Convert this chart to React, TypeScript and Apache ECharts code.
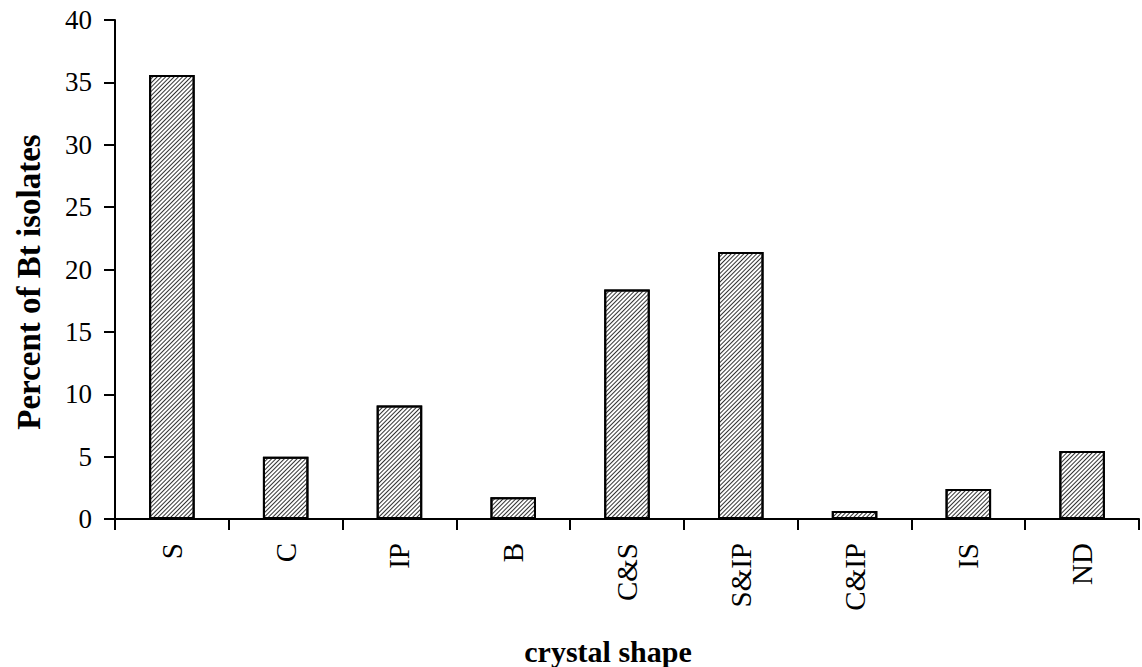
import React, { useEffect, useRef } from "react";
import * as echarts from "echarts";

const categories = ["S", "C", "IP", "B", "C&S", "S&IP", "C&IP", "IS", "ND"];
const percentValues = [35.6, 5.0, 9.1, 1.75, 18.4, 21.4, 0.65, 2.4, 5.45];
const yTicks = { min: 0, max: 40, interval: 5 };
const xTitle = "crystal shape";
const yTitle = "Percent of Bt isolates";

const FONT = "'Liberation Serif', 'DejaVu Serif', serif";

export default function App() {
  const ref = useRef<HTMLDivElement>(null);
  useEffect(() => {
    if (!ref.current) return;
    const chart = echarts.init(ref.current, null, { renderer: "svg" });
    chart.setOption({
      animation: false,
      backgroundColor: "#fff",
      grid: { left: 115, right: 3, top: 20, bottom: 148, containLabel: false },
      graphic: [
        {
          type: "text",
          x: 608,
          y: 651,
          style: {
            text: xTitle,
            fontFamily: FONT,
            fontSize: 30,
            fontWeight: "bold",
            fill: "#000",
            textAlign: "center",
            textVerticalAlign: "middle",
          },
        },
        {
          type: "text",
          x: 29,
          y: 282,
          rotation: Math.PI / 2,
          style: {
            text: yTitle,
            fontFamily: FONT,
            fontSize: 33,
            fontWeight: "bold",
            fill: "#000",
            textAlign: "center",
            textVerticalAlign: "middle",
          },
        },
      ],
      xAxis: {
        type: "category",
        data: categories,
        axisLine: { lineStyle: { color: "#000", width: 2 } },
        axisTick: { show: true, length: 11, lineStyle: { color: "#000", width: 2 } },
        axisLabel: { rotate: 90, margin: 24, fontFamily: FONT, fontSize: 29, color: "#000" },
      },
      yAxis: {
        type: "value",
        min: yTicks.min,
        max: yTicks.max,
        interval: yTicks.interval,
        axisLine: { show: true, lineStyle: { color: "#000", width: 2 } },
        axisTick: { show: true, length: 11, lineStyle: { color: "#000", width: 2 } },
        axisLabel: { margin: 23, fontFamily: FONT, fontSize: 27, color: "#000" },
        splitLine: { show: false },
      },
      series: [
        {
          type: "bar",
          data: percentValues,
          barWidth: "40%",
          itemStyle: {
            color: "#ffffff",
            borderColor: "#000",
            borderWidth: 2,
            decal: {
              symbol: "rect",
              symbolSize: 1,
              color: "#333",
              dashArrayX: [1, 0],
              dashArrayY: [1, 1.5],
              rotation: -Math.PI / 4,
            },
          },
        },
      ],
    });
    return () => chart.dispose();
  }, []);
  return <div ref={ref} style={{ width: 1142, height: 667, position: "absolute", left: 0, top: 0 }} />;
}
